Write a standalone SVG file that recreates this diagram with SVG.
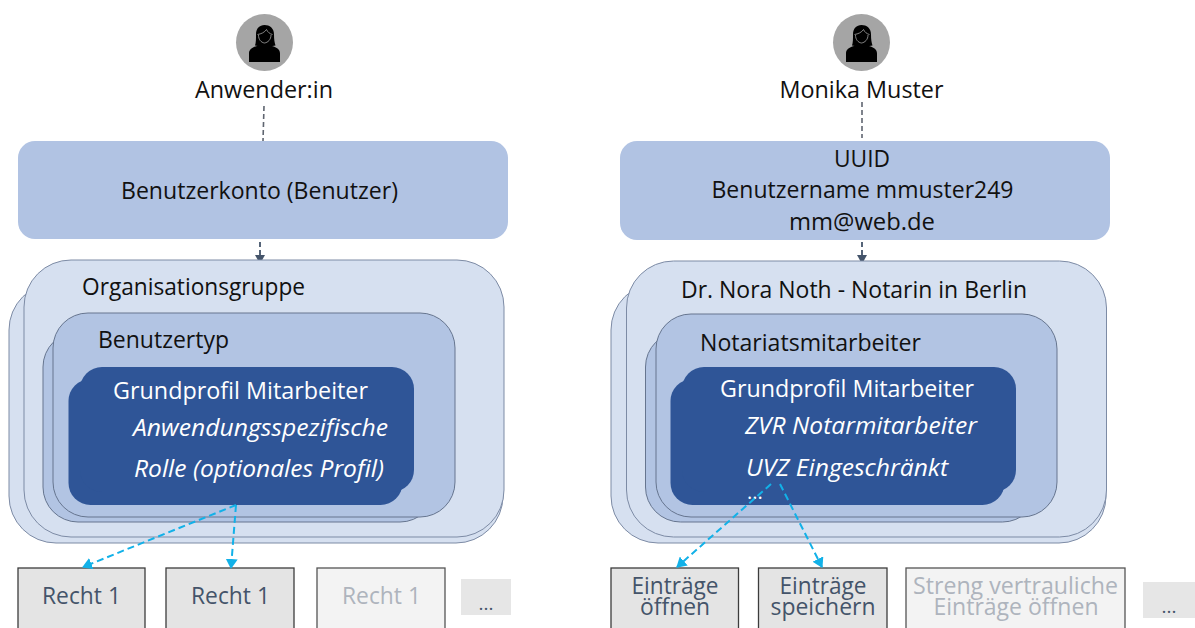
<svg xmlns="http://www.w3.org/2000/svg" width="1195" height="628" viewBox="0 0 1195 628">
<style>
text{font-family:"Open Sans","Noto Sans","Liberation Sans",sans-serif;font-size:24px;fill:#111}
.m{text-anchor:middle}
.w{fill:#fff}
.i{fill:#fff;font-style:italic}
.head{fill:#b1c3e3}
.org{fill:#d6e0f0;stroke:#7d8ba5;stroke-width:1}
.typ{fill:#b2c4e3;stroke:#66758f;stroke-width:1}
.prof{fill:#2f5597}
.on{fill:#e4e4e4;stroke:#3c3c3c;stroke-width:1.3}
.off{fill:#f3f3f3;stroke:#555;stroke-width:1.3}
.more{fill:#e6e6e6}
.on-t{fill:#44546a}
.off-t{fill:#aeb4bd}
.grey{stroke:#5f6570;stroke-width:1.6;stroke-dasharray:5 3;fill:none}
.slate{stroke:#44546a;stroke-width:1.8;stroke-dasharray:5 3;fill:none}
.cy{stroke:#12b1e8;stroke-width:2;stroke-dasharray:7 4;fill:none}
</style>
<defs>
<marker id="as" markerWidth="10" markerHeight="10" refX="8" refY="5" orient="auto" markerUnits="userSpaceOnUse"><path d="M0 0L9 5L0 10Z" fill="#44546a"/></marker>
<marker id="ac" markerWidth="12" markerHeight="12" refX="9" refY="6" orient="auto" markerUnits="userSpaceOnUse"><path d="M0 0L10 6L0 12Z" fill="#12b1e8"/></marker>
<symbol id="person" viewBox="0 0 58 58" overflow="visible">
<circle cx="29" cy="29" r="28.5" fill="#a5a5a5"/>
<path d="M13.500 48.500V40c0-4 3-6 8-7.500l3-1h9l3 1c5 1.500 8 3.500 8 7.500v8.500Z" fill="#000"/>
<path d="M19.500 32c1-3 1-6.500 1-11 0-6 3.500-9.500 8.500-9.500s9.500 3 9.500 9.500c0 5 .5 8 1.500 11l-6 1h-9Z" fill="#000"/>
<path d="M22 21c3.500-.5 7-2 9-5 1 2.500 3.500 4.500 6 5M23 21.500c0 4.500 2.500 7.500 6 8 3.500-.5 6.500-3.500 6.500-8" fill="none" stroke="#a5a5a5" stroke-width=".8"/>
</symbol>
</defs>

<g id="connectors-upper">
<path class="grey" d="M264 106L263 141"/>
<path class="slate" d="M260 242V263" marker-end="url(#as)"/>
<path class="grey" d="M862 102V138"/>
<path class="slate" d="M862 242V263" marker-end="url(#as)"/>
</g>

<g id="user-left"><use href="#person" x="235.500" y="13.500" width="58" height="58"/>
<text class="m" x="264" y="98" textLength="138" lengthAdjust="spacingAndGlyphs">Anwender:in</text></g>
<g id="account-left"><rect class="head" x="18" y="141" width="490" height="98" rx="17"/>
<text class="m" x="259.500" y="199" textLength="277" lengthAdjust="spacingAndGlyphs">Benutzerkonto (Benutzer)</text></g>
<g id="org-left"><rect class="org" x="9" y="283" width="494" height="260" rx="47"/><rect class="org" x="24" y="260" width="480" height="277" rx="47"/>
<text x="82" y="295" textLength="223" lengthAdjust="spacingAndGlyphs">Organisationsgruppe</text></g>
<g id="type-left"><rect class="typ" x="43" y="332" width="392" height="190" rx="35"/><rect class="typ" x="53" y="313" width="402" height="204" rx="35"/>
<text x="98" y="348" textLength="131" lengthAdjust="spacingAndGlyphs">Benutzertyp</text></g>
<g id="profile-left"><rect class="prof" x="68.500" y="379" width="334" height="126" rx="22"/><rect class="prof" x="80" y="367" width="334" height="125" rx="22"/>
<text class="w" x="113" y="399" textLength="255" lengthAdjust="spacingAndGlyphs">Grundprofil Mitarbeiter</text>
<text class="i" x="133" y="436" textLength="255" lengthAdjust="spacingAndGlyphs">Anwendungsspezifische</text>
<text class="i" x="134" y="477" textLength="250" lengthAdjust="spacingAndGlyphs">Rolle (optionales Profil)</text></g>
<g id="right-l1"><rect class="on" x="18" y="568" width="127" height="80"/><text class="on-t" x="42" y="604" textLength="79" lengthAdjust="spacingAndGlyphs">Recht 1</text></g>
<g id="right-l2"><rect class="on" x="166" y="568" width="128" height="80"/><text class="on-t" x="191" y="604" textLength="79" lengthAdjust="spacingAndGlyphs">Recht 1</text></g>
<g id="right-l3"><rect class="off" x="317" y="568" width="128" height="80"/><text class="off-t" x="342" y="604" textLength="79" lengthAdjust="spacingAndGlyphs">Recht 1</text></g>
<g id="more-l"><rect class="more" x="461" y="579" width="50" height="36"/><text class="on-t m" x="486" y="610" style="font-size:19px">...</text></g>

<g id="user-right"><use href="#person" x="832.500" y="13.500" width="58" height="58"/>
<text class="m" x="861.500" y="98" textLength="164" lengthAdjust="spacingAndGlyphs">Monika Muster</text></g>
<g id="account-right"><rect class="head" x="620" y="141" width="490" height="99" rx="17"/>
<text class="m" x="862" y="167" textLength="56" lengthAdjust="spacingAndGlyphs">UUID</text>
<text class="m" x="862.500" y="198" textLength="302" lengthAdjust="spacingAndGlyphs">Benutzername mmuster249</text>
<text class="m" x="862" y="230" textLength="146" lengthAdjust="spacingAndGlyphs">mm@web.de</text></g>
<g id="org-right"><rect class="org" x="611" y="283" width="495" height="260" rx="47"/><rect class="org" x="626.500" y="261" width="480" height="276" rx="47"/>
<text x="681" y="298" textLength="346" lengthAdjust="spacingAndGlyphs">Dr. Nora Noth - Notarin in Berlin</text></g>
<g id="type-right"><rect class="typ" x="645.500" y="332" width="392" height="190" rx="35"/><rect class="typ" x="656" y="314" width="401" height="203" rx="35"/>
<text x="700" y="351" textLength="221" lengthAdjust="spacingAndGlyphs">Notariatsmitarbeiter</text></g>
<g id="profile-right"><rect class="prof" x="670.500" y="379" width="334" height="126" rx="22"/><rect class="prof" x="682" y="367" width="334" height="125" rx="22"/>
<text class="w" x="720" y="397" textLength="254" lengthAdjust="spacingAndGlyphs">Grundprofil Mitarbeiter</text>
<text class="i" x="745" y="434" textLength="232" lengthAdjust="spacingAndGlyphs">ZVR Notarmitarbeiter</text>
<text class="i" x="746" y="476" textLength="202" lengthAdjust="spacingAndGlyphs">UVZ Eingeschränkt</text>
<text class="w" x="747" y="499" style="font-size:20px">...</text></g>
<g id="right-r1"><rect class="on" x="611" y="568" width="127.500" height="80"/><text class="on-t m" x="675" y="594" textLength="87" lengthAdjust="spacingAndGlyphs">Einträge</text><text class="on-t m" x="675" y="615" textLength="70" lengthAdjust="spacingAndGlyphs">öffnen</text></g>
<g id="right-r2"><rect class="on" x="758.500" y="568" width="128.500" height="80"/><text class="on-t m" x="823" y="594" textLength="87" lengthAdjust="spacingAndGlyphs">Einträge</text><text class="on-t m" x="823" y="615" textLength="105" lengthAdjust="spacingAndGlyphs">speichern</text></g>
<g id="right-r3"><rect class="off" x="906" y="568" width="219" height="80"/><text class="off-t m" x="1015.500" y="594" textLength="205" lengthAdjust="spacingAndGlyphs">Streng vertrauliche</text><text class="off-t m" x="1016" y="615" textLength="165" lengthAdjust="spacingAndGlyphs">Einträge öffnen</text></g>
<g id="more-r"><rect class="more" x="1143" y="582" width="52" height="36"/><text class="on-t m" x="1169" y="613" style="font-size:19px">...</text></g>

<g id="connectors-lower">
<path class="cy" d="M236 505L83 567" marker-end="url(#ac)"/>
<path class="cy" d="M236 505L231 568" marker-end="url(#ac)"/>
<path class="cy" d="M771 484L677 567" marker-end="url(#ac)"/>
<path class="cy" d="M780 484L822 567" marker-end="url(#ac)"/>
</g>
</svg>
